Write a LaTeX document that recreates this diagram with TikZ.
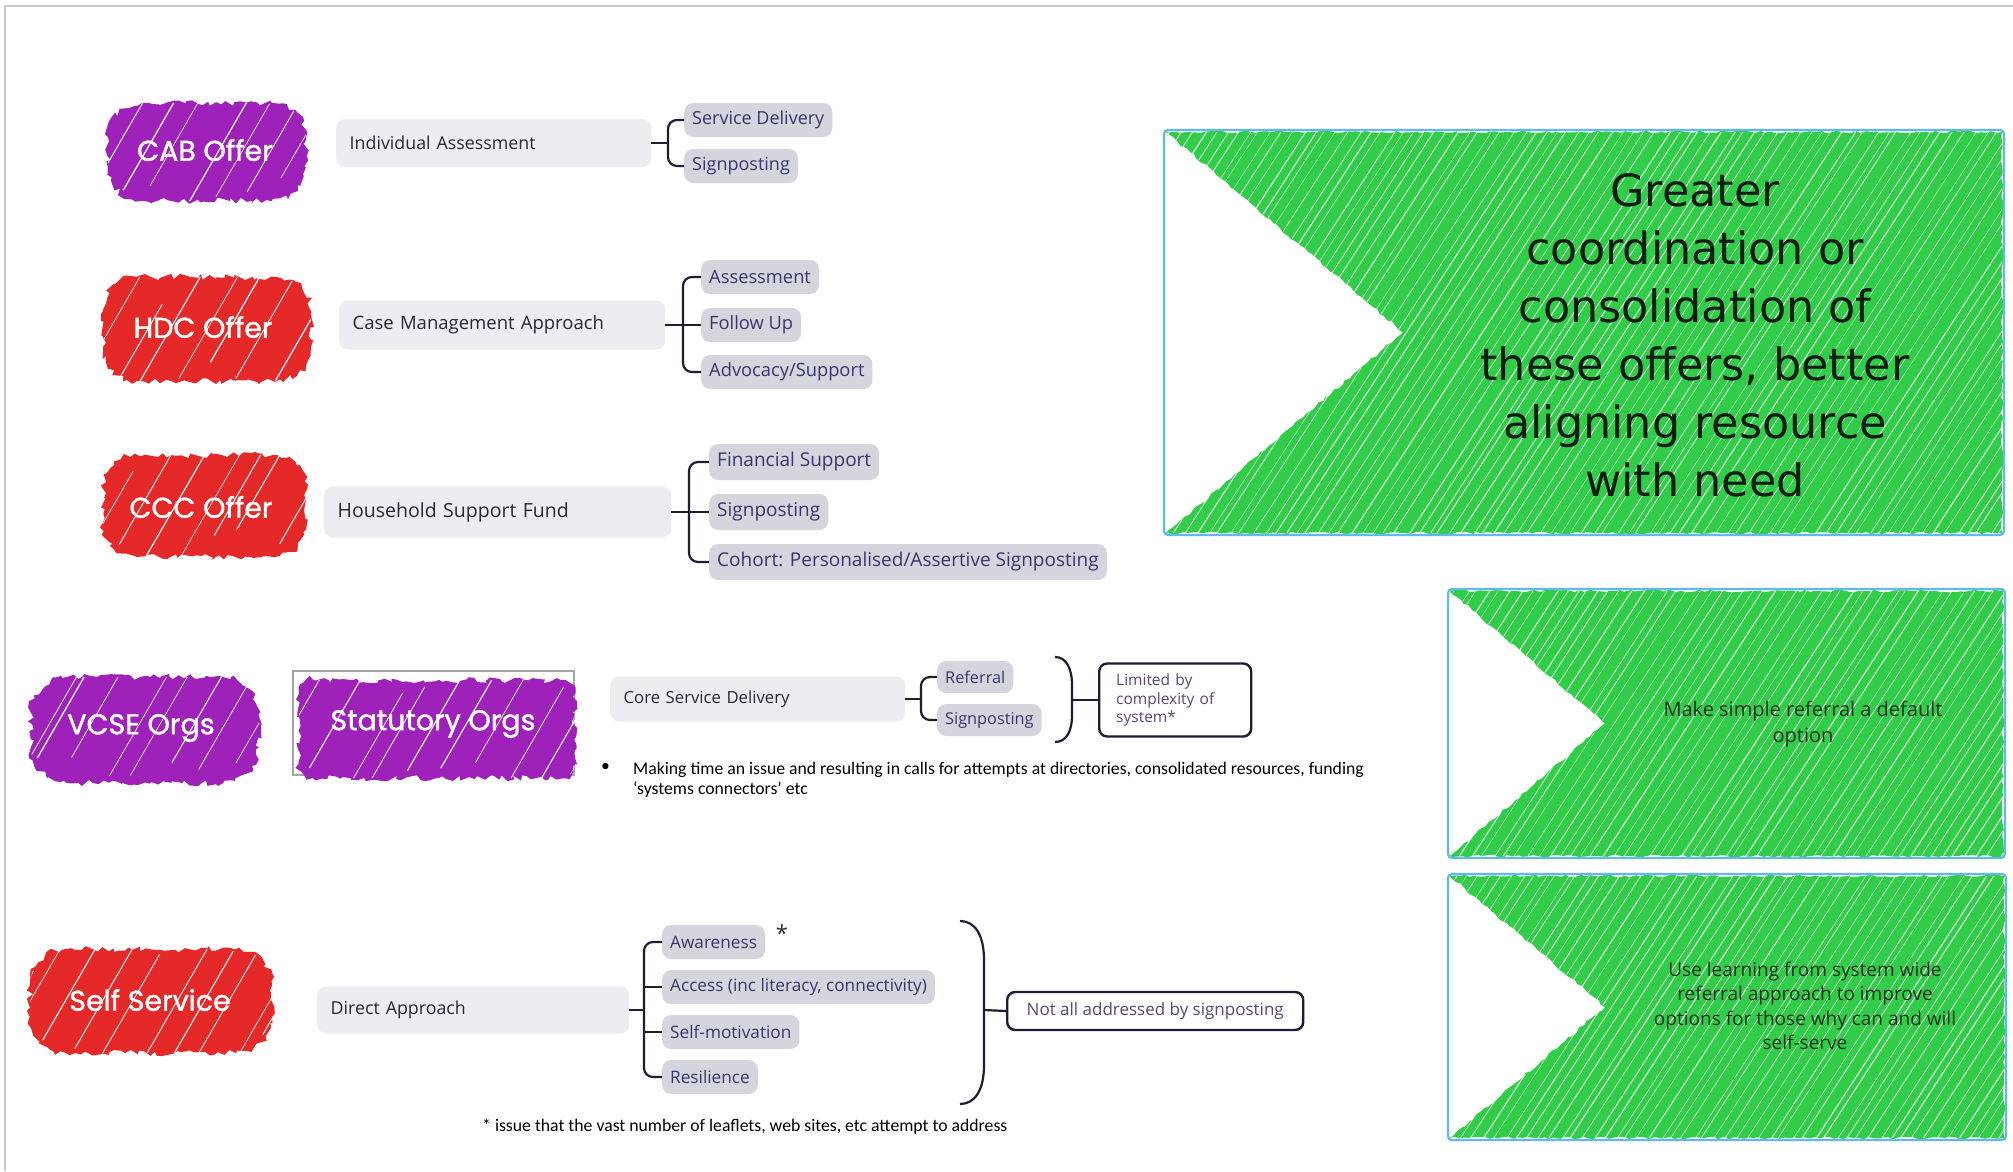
\documentclass[tikz,border=0pt]{standalone}
\usepackage{fontspec}
\setmainfont{Open Sans}
\newfontfamily\carl{Carlito}
\newfontfamily\dejav{DejaVu Sans}
\newfontfamily\popp[FakeBold=1.3]{Poppins}
\usetikzlibrary{calc,decorations.pathmorphing}

\definecolor{cpurple}{RGB}{158,34,186}
\definecolor{cred}{RGB}{229,40,40}
\definecolor{lblgray}{RGB}{237,237,241}
\definecolor{kidgray}{RGB}{213,213,222}
\definecolor{lbltext}{RGB}{40,40,52}
\definecolor{kidtext}{RGB}{55,55,110}
\definecolor{brkcol}{RGB}{30,30,50}
\definecolor{gfill}{RGB}{50,205,72}
\definecolor{gborder}{RGB}{95,185,235}
\definecolor{gtext}{RGB}{15,28,20}
\definecolor{gtexttwo}{RGB}{20,48,30}
\definecolor{notetext}{RGB}{90,72,112}
\definecolor{framegray}{RGB}{200,200,200}
\definecolor{statframe}{RGB}{165,165,165}

\newcommand\fsz[2]{\fontsize{#1}{#2}\selectfont}

% #1 cx, #2 cy, #3 w, #4 h, #5 corner radius, #6 colour, #7 seed
\newcommand\drawblob[7]{%
  \begin{scope}
    \pgfmathsetseed{#7}
    \pgfmathsetmacro\bL{#1-#3/2}\pgfmathsetmacro\bR{#1+#3/2}
    \pgfmathsetmacro\bT{#2-#4/2}\pgfmathsetmacro\bB{#2+#4/2}
    \pgfmathsetmacro\br{#5}
    \fill[#6,decorate,decoration={random steps,segment length=4.5pt,amplitude=3.2pt}]
      (\bL+\br,\bT) -- (\bR-\br,\bT) .. controls (\bR-0.45*\br,\bT) and (\bR,\bT+0.45*\br) .. (\bR,\bT+\br)
      -- (\bR,\bB-\br) .. controls (\bR,\bB-0.45*\br) and (\bR-0.45*\br,\bB) .. (\bR-\br,\bB)
      -- (\bL+\br,\bB) .. controls (\bL+0.45*\br,\bB) and (\bL,\bB-0.45*\br) .. (\bL,\bB-\br)
      -- (\bL,\bT+\br) .. controls (\bL,\bT+0.45*\br) and (\bL+0.45*\br,\bT) .. (\bL+\br,\bT) -- cycle;
    \clip (\bL+\br,\bT) -- (\bR-\br,\bT) .. controls (\bR-0.45*\br,\bT) and (\bR,\bT+0.45*\br) .. (\bR,\bT+\br)
      -- (\bR,\bB-\br) .. controls (\bR,\bB-0.45*\br) and (\bR-0.45*\br,\bB) .. (\bR-\br,\bB)
      -- (\bL+\br,\bB) .. controls (\bL+0.45*\br,\bB) and (\bL,\bB-0.45*\br) .. (\bL,\bB-\br)
      -- (\bL,\bT+\br) .. controls (\bL,\bT+0.45*\br) and (\bL+0.45*\br,\bT) .. (\bL+\br,\bT) -- cycle;
    \pgfmathsetmacro\bspan{#4/tan(60)}
    \pgfmathsetmacro\blen{(#4+40)/sin(60)}
    \pgfmathtruncatemacro\bn{(#3+\bspan)/32}
    \foreach \k in {0,...,\bn}{%
      \pgfmathsetmacro\bx{\bL-\bspan+\k*32+rnd*12}
      \pgfmathsetmacro\bw{0.6+rnd*0.7}
      \pgfmathsetmacro\bs{rnd*40}
      \pgfmathsetmacro\bl{\blen*(0.55+0.45*rnd)}
      \draw[white,line width=\bw pt] (\bx,\bB-\bs+12) -- ++(60:\bl pt);}
  \end{scope}}

\newcommand\greenpanel[5]{% x1 y1 x2 y2 tipx
  \fill[gfill,decorate,decoration={random steps,segment length=5pt,amplitude=1.3pt}]
    (#1,#2) -- (#3,#2) -- (#3,#4) -- (#1,#4) -- (#5,{(#2+#4)/2}) -- cycle;
  \begin{scope}
    \clip (#1,#2) -- (#3,#2) -- (#3,#4) -- (#1,#4) -- (#5,{(#2+#4)/2}) -- cycle;
    \pgfmathsetmacro\gspan{(#4-#2)/tan(57)}
    \pgfmathsetmacro\glen{(#4-#2+20)/sin(57)}
    \pgfmathtruncatemacro\gn{(#3-#1+\gspan)/11}
    \foreach \k in {0,...,\gn}{%
      \pgfmathsetmacro\gx{#1-\gspan+\k*11+rnd*6}
      \pgfmathsetmacro\gw{0.35+rnd*0.8}
      \draw[white,line width=\gw pt,opacity=0.85] (\gx,#4+5) -- ++(57:\glen pt);}
  \end{scope}}

\tikzset{
  lbl/.style={rectangle,rounded corners=9pt,fill=lblgray,text=lbltext,anchor=west,
    inner xsep=13.5pt,inner ysep=0pt,align=left},
  kid/.style={rectangle,rounded corners=9pt,fill=kidgray,text=kidtext,anchor=west,
    inner xsep=8pt,inner ysep=0pt,minimum height=34pt},
  brk/.style={draw=brkcol,line width=2.2pt,rounded corners=9pt},
  blobtext/.style={text=white,font=\popp\fsz{28.5}{33},inner sep=0pt},
  notebox/.style={rectangle,rounded corners=8pt,draw=brkcol,line width=2.4pt,fill=white,text=notetext},
  gbox/.style={rectangle,rounded corners=4pt,draw=gborder,line width=2.2pt},
  smalltext/.style={font=\carl\fsz{17.7}{20.5},inner sep=0pt,text=black},
}

\begin{document}
\begin{tikzpicture}[x=1pt,y=-1pt]
\useasboundingbox (0,0) rectangle (2013,1171);
\fill[white] (0,0) rectangle (2013,1171);
\draw[framegray,line width=1.5pt] (5,1171) -- (5,6) -- (2013,6);

% ---------- blobs ----------
\drawblob{207}{152}{198}{98}{34}{cpurple}{11}
\node[blobtext] (cab) at (205,150) {CAB Offer};
\drawblob{207}{329}{208}{104}{34}{cred}{12}
\node[blobtext] (hdc) at (203,327) {HDC Offer};
\drawblob{205}{506}{204}{102}{34}{cred}{13}
\node[blobtext] (ccc) at (201,507) {CCC Offer};
\drawblob{145}{730}{228}{106}{36}{cpurple}{14}
\node[blobtext] (vcse) at (141,728) {VCSE Orgs};
\node[draw=statframe,line width=1.6pt,fill=white,minimum width=281pt,minimum height=104pt] (statfr) at (433.5,723) {};
\drawblob{437}{729}{276}{98}{14}{cpurple}{15}
\node[blobtext] (stat) at (433,724) {Statutory Orgs};
\drawblob{151}{1001}{242}{104}{36}{cred}{16}
\node[blobtext] (ss) at (150,1000) {Self Service};

% ---------- row 1 ----------
\node[lbl,minimum height=48pt,text width=288pt,font=\fsz{17.8}{21}] (ia) at (336,143) {Individual Assessment};
\node[kid,font=\fsz{18}{21}] (sd) at (684,120) {Service Delivery};
\node[kid,font=\fsz{18}{21}] (sg1) at (684,166) {Signposting};
\coordinate (cabj) at (668,143);
\draw[brk] (sd.west) -- ++(-16,0) |- (sg1.west);
\draw[brk] (ia.east) -- (cabj);

% ---------- row 2 ----------
\node[lbl,minimum height=49pt,text width=299pt,font=\fsz{18.5}{21}] (cma) at (339,325) {Case Management Approach};
\node[kid,font=\fsz{18.3}{21}] (as) at (701,277) {Assessment};
\node[kid,font=\fsz{18.3}{21}] (fu) at (701,325) {Follow Up};
\node[kid,font=\fsz{18.3}{21}] (adv) at (701,372) {Advocacy/Support};
\draw[brk] (as.west) -- ++(-18,0) |- (adv.west);
\draw[brk] (cma.east) -- (fu.west);

% ---------- row 3 ----------
\node[lbl,minimum height=51pt,text width=320pt,font=\fsz{19.5}{22}] (hsf) at (324,512) {Household Support Fund};
\node[kid,minimum height=36pt,font=\fsz{19}{22}] (fs) at (709,462) {Financial Support};
\node[kid,minimum height=36pt,font=\fsz{19}{22}] (sg2) at (709,512) {Signposting};
\node[kid,minimum height=36pt,font=\fsz{19}{22}] (coh) at (709,562) {Cohort: Personalised/Assertive Signposting};
\draw[brk] (fs.west) -- ++(-20,0) |- (coh.west);
\draw[brk] (hsf.east) -- (sg2.west);

% ---------- row 4 ----------
\node[lbl,minimum height=45pt,text width=268pt,font=\fsz{16.7}{20}] (csd) at (610,699) {Core Service Delivery};
\node[kid,minimum height=32pt,font=\fsz{16.3}{20}] (ref) at (937,677) {Referral};
\node[kid,minimum height=32pt,font=\fsz{16.3}{20}] (sg3) at (937,720) {Signposting};
\coordinate (csdj) at (921,699);
\draw[brk] (ref.west) -- ++(-16,0) |- (sg3.west);
\draw[brk] (csd.east) -- (csdj);
\draw[brk,rounded corners=0pt] (1055,657) .. controls (1066,657) and (1072,668) .. (1072,685) -- (1072,715) .. controls (1072,732) and (1066,742) .. (1055,742);
\coordinate (p1m) at (1072,700);
\node[notebox,anchor=west,align=left,text width=118pt,inner xsep=17pt,minimum height=73pt,font=\fsz{15.5}{18.3}] (lim) at (1098,700) {Limited by\\complexity of\\system*};
\draw[brk] (p1m) -- (lim.west);
\node[smalltext,anchor=west] (bul) at (601,767) {•};
\node[smalltext,anchor=base west] (mk1) at (633,774) {Making time an issue and resulting in calls for attempts at directories, consolidated resources, funding};
\node[smalltext,anchor=base west] (mk2) at (633,794.5) {‘systems connectors’ etc};

% ---------- row 5 ----------
\node[lbl,minimum height=47pt,text width=285pt,font=\fsz{17.8}{21}] (da) at (317,1010) {Direct Approach};
\node[kid,font=\fsz{17.2}{20}] (aw) at (662,942) {Awareness};
\node[kid,font=\fsz{17.2}{20}] (acc) at (662,987) {Access (inc literacy, connectivity)};
\node[kid,font=\fsz{17.2}{20}] (sm) at (662,1032) {Self-motivation};
\node[kid,font=\fsz{17.2}{20}] (res) at (662,1077) {Resilience};
\coordinate (ssj) at (644,1010);
\draw[brk] (aw.west) -- ++(-18,0) |- (res.west);
\draw[brk] (acc.west) -- ++(-18,0);
\draw[brk] (sm.west) -- ++(-18,0);
\draw[brk] (da.east) -- (ssj);
\node[font=\fsz{22}{24},text=lbltext] (star) at (782,933) {*};
\draw[brk,rounded corners=0pt] (960,921) .. controls (975,921) and (984,935) .. (984,960) -- (984,1065) .. controls (984,1090) and (975,1104) .. (960,1104);
\coordinate (p2m) at (984,1010);
\node[notebox,anchor=west,minimum width=296pt,minimum height=38pt,font=\fsz{17}{20}] (nab) at (1006,1011) {Not all addressed by signposting};
\draw[brk] (p2m) -- (nab.west);
\node[smalltext,anchor=west] (fn) at (482,1127) {* issue that the vast number of leaflets, web sites, etc attempt to address};

% ---------- green panels ----------
\pgfmathsetseed{12345}
\greenpanel{1166}{132}{2002}{533}{1403}
\node[gbox,minimum width=840pt,minimum height=405pt] (g1) at (1584,332.5) {};
\node[font=\dejav\fsz{44.5}{58},text=gtext,align=center] (g1t) at (1695,335) {Greater\\coordination or\\consolidation of\\these offers, better\\aligning resource\\with need};

\greenpanel{1450}{591}{2003}{856}{1605}
\node[gbox,minimum width=557pt,minimum height=269pt] (g2) at (1726.5,723.5) {};
\node[font=\fsz{20}{26},text=gtexttwo,align=center] (g2t) at (1803,724) {Make simple referral a default\\option};

\greenpanel{1450}{876}{2004}{1138}{1605}
\node[gbox,minimum width=558pt,minimum height=266pt] (g3) at (1727,1007) {};
\node[font=\fsz{19}{24.5},text=gtexttwo,align=center] (g3t) at (1805,1006) {Use learning from system wide\\referral approach to improve\\options for those why can and will\\self-serve};
\end{tikzpicture}
\end{document}
